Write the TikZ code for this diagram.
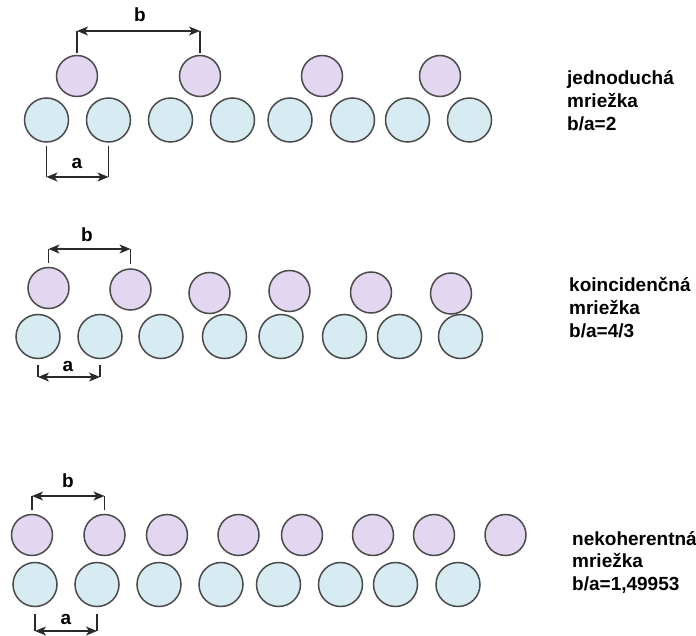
\documentclass[tikz,border=0pt]{standalone}
\usepackage{fontspec}
\setmainfont{Liberation Sans}
\usetikzlibrary{arrows.meta}
\definecolor{atomviolet}{HTML}{E2D6F0}
\definecolor{atomblue}{HTML}{D6ECF2}
\definecolor{atomline}{HTML}{4A4A4A}
\definecolor{dimgray}{HTML}{2A2A2A}
\begin{document}
\begin{tikzpicture}[x=1pt,y=-1pt,
  atom/.style={circle,draw=atomline,line width=1.5pt,inner sep=0pt},
  upper/.style={atom,fill=atomviolet,minimum size=41pt},
  lower/.style={atom,fill=atomblue,minimum size=44pt},
  dimline/.style={draw=dimgray,line width=1.4pt},
  dimarrow/.style={dimline,{Stealth[length=11pt,width=9pt,inset=3pt]}-{Stealth[length=11pt,width=9pt,inset=3pt]}},
  lbl/.style={font=\bfseries\fontsize{19}{23}\selectfont,inner sep=0pt,anchor=base},
  caption/.style={font=\bfseries\fontsize{19}{23}\selectfont,inner sep=0pt,anchor=base west}]
\useasboundingbox (0,0) rectangle (696,636);

% ---- simple lattice, b/a = 2
\foreach \x [count=\i] in {77,200,322,440}
  \node[upper] (s1p\i) at (\x,76) {};
\foreach \x [count=\i] in {46.5,108.5,170.5,232.5,290,352.5,407.5,469.5}
  \node[lower] (s1q\i) at (\x,120) {};
\coordinate (s1b) at (0,31);
\coordinate (s1a) at (0,177);
\draw[dimline] ([yshift=2pt]s1p1.north) -- (s1p1.north |- s1b) coordinate (s1bl);
\draw[dimline] ([yshift=2pt]s1p2.north) -- (s1p2.north |- s1b) coordinate (s1br);
\draw[dimarrow] (s1bl) -- (s1br);
\draw[dimline] ([yshift=-3pt]s1q1.south) -- (s1q1.south |- s1a) coordinate (s1al);
\draw[dimline] ([yshift=-3pt]s1q2.south) -- (s1q2.south |- s1a) coordinate (s1ar);
\draw[dimarrow] (s1al) -- (s1ar);
\node[lbl] (s1blab) at (140,22) {b};
\node[lbl] (s1alab) at (77,169) {a};
\node[caption] (s1cap) at (567,85)
  {\vtop{\hbox{jednoduchá}\hbox{mriežka}\hbox{b/a=2}}};

% ---- coincidence lattice, b/a = 4/3
\foreach \x/\y [count=\i] in {48.5/288,130.5/289.5,209.5/293,289.5/291,371/292.5,451/293.5}
  \node[upper] (s2p\i) at (\x,\y) {};
\foreach \x [count=\i] in {38,100,161,224.5,281,344.5,399.5,460.5}
  \node[lower] (s2q\i) at (\x,336.5) {};
\coordinate (s2b) at (0,249);
\coordinate (s2a) at (0,377);
\draw[dimline] ([yshift=4pt]s2p1.north) -- (s2p1.north |- s2b) coordinate (s2bl);
\draw[dimline] ([yshift=4pt]s2p2.north) -- (s2p2.north |- s2b) coordinate (s2br);
\draw[dimarrow] (s2bl) -- (s2br);
\draw[dimline] ([yshift=-6pt]s2q1.south) -- (s2q1.south |- s2a) coordinate (s2al);
\draw[dimline] ([yshift=-6pt]s2q2.south) -- (s2q2.south |- s2a) coordinate (s2ar);
\draw[dimarrow] (s2al) -- (s2ar);
\node[lbl] (s2blab) at (87,242) {b};
\node[lbl] (s2alab) at (68,371) {a};
\node[caption] (s2cap) at (569,292)
  {\vtop{\hbox{koincidenčná}\hbox{mriežka}\hbox{b/a=4/3}}};

% ---- incoherent lattice, b/a = 1,49953
\foreach \x [count=\i] in {32,104.5,167,238.5,302,373,434,505.5}
  \node[upper] (s3p\i) at (\x,535) {};
\foreach \x [count=\i] in {35,97,159,221,278.5,340.5,395.5,458}
  \node[lower] (s3q\i) at (\x,584.5) {};
\coordinate (s3b) at (0,496);
\coordinate (s3a) at (0,631);
\draw[dimline] ([yshift=4pt]s3p1.north) -- (s3p1.north |- s3b) coordinate (s3bl);
\draw[dimline] ([yshift=4pt]s3p2.north) -- (s3p2.north |- s3b) coordinate (s3br);
\draw[dimarrow] (s3bl) -- (s3br);
\draw[dimline] ([yshift=-7pt]s3q1.south) -- (s3q1.south |- s3a) coordinate (s3al);
\draw[dimline] ([yshift=-7pt]s3q2.south) -- (s3q2.south |- s3a) coordinate (s3ar);
\draw[dimarrow] (s3al) -- (s3ar);
\node[lbl] (s3blab) at (68,487) {b};
\node[lbl] (s3alab) at (66,624) {a};
\node[caption] (s3cap) at (572,545)
  {\vtop{\baselineskip=22.5pt\hbox{nekoherentná}\hbox{mriežka}\hbox{b/a=1,49953}}};
\end{tikzpicture}
\end{document}
